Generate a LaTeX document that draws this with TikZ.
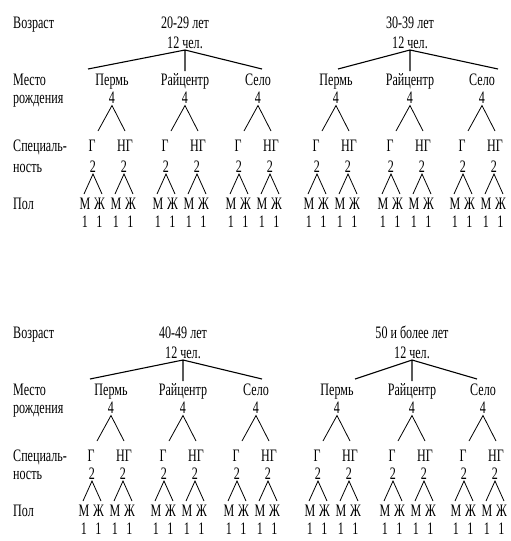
\documentclass[tikz,border=0pt]{standalone}
\usepackage{fontspec}
\newfontfamily\diagfont{Liberation Serif}[FakeStretch=0.69]
\tikzset{
  lbl/.style={inner sep=0pt, anchor=base, font=\diagfont\fontsize{17.5}{20}\selectfont},
  lft/.style={lbl, anchor=base west},
  br/.style={line width=1.1pt},
  tw/.style={line width=0.8pt}
}
% #1 prefix, #2 dy upper, #3 dy lower, #4 #5 #6 sub centres, #7 age, #8 left end, #9 right end
\newcommand\treeblock[9]{%
  \node[lbl] (#1age) at (#5,{28+#2}) {#7};
  \node[lbl] (#1tot) at (#5,{48+#2}) {12 чел.};
  \coordinate (#1apex) at (#5,{50+#2});
  \coordinate (#1la) at (#8,{69+#2});
  \coordinate (#1lb) at (#5,{71+#2});
  \coordinate (#1lc) at (#9,{69+#2});
  \draw[br] (#1la) -- (#1apex) -- (#1lc) (#1apex) -- (#1lb);
  \foreach \p/\nm/\k in {#4/Пермь/a,#5/Райцентр/b,#6/Село/c}{
    \node[lbl] (#1\k) at (\p,{85+#2}) {\nm};
    \node[lbl] (#1\k-4) at (\p,{103.5+#2}) {4};
    \coordinate (#1\k-t) at (\p,{105.5+#2});
    \coordinate (#1\k-l) at ({\p-14},{131+#2});
    \coordinate (#1\k-r) at ({\p+13},{131+#2});
    \draw[tw] (#1\k-l) -- (#1\k-t) -- (#1\k-r);
    \node[lbl] (#1\k-G) at ({\p-20},{151+#2}) {Г};
    \node[lbl] (#1\k-H) at ({\p+13},{151+#2}) {НГ};
    \foreach \c/\s in {{\p-19}/G,{\p+12}/H}{
      \node[lbl] (#1\k\s-2) at (\c,{172+#3}) {2};
      \coordinate (#1\k\s-t) at (\c,{174+#3});
      \coordinate (#1\k\s-l) at ({\c-9},{194+#3});
      \coordinate (#1\k\s-r) at ({\c+9},{194+#3});
      \draw[tw] (#1\k\s-l) -- (#1\k\s-t) -- (#1\k\s-r);
      \node[lbl] (#1\k\s-M) at ({\c-8},{209+#3}) {М};
      \node[lbl] (#1\k\s-Z) at ({\c+6.5},{209+#3}) {Ж};
      \node[lbl] (#1\k\s-m) at ({\c-8},{227+#3}) {1};
      \node[lbl] (#1\k\s-z) at ({\c+6.5},{227+#3}) {1};
    }
  }
}
\newcommand\rowlabels[3]{%
  \node[lft] (#1v) at (13,{28+#2}) {Возраст};
  \node[lft] (#1m) at (13,{85+#2}) {Место};
  \node[lft] (#1r) at (13,{103.5+#2}) {рождения};
  \node[lft] (#1s) at (13,{151+#2}) {Специаль-};
  \node[lft] (#1n) at (13,{172+#3}) {ность};
  \node[lft] (#1p) at (13,{209+#3}) {Пол};
}
\begin{document}
\begin{tikzpicture}[x=1pt,y=-1pt]
  \useasboundingbox (0,0) rectangle (511,541);
  \rowlabels{U}{0}{0}
  \rowlabels{D}{310}{307}
  \treeblock{A}{0}{0}{112}{185}{258}{20-29 лет}{88}{262}
  \treeblock{B}{0}{0}{336}{410}{482}{30-39 лет}{338}{498}
  \treeblock{C}{310}{307}{111}{183}{256}{40-49 лет}{90}{262}
  \treeblock{D}{310}{307}{337}{412}{483}{50 и более лет}{355}{477}
\end{tikzpicture}
\end{document}
